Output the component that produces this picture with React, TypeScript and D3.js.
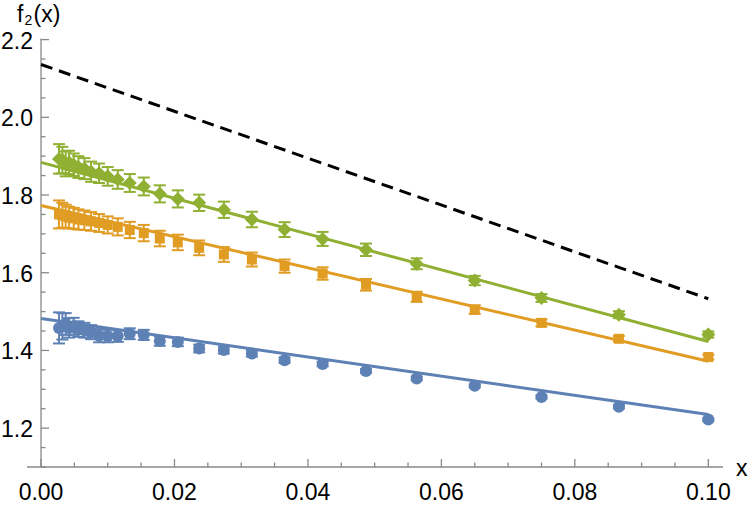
import * as d3 from 'd3'

// sample positions shared by the three data sets
const xs = [
  0.1, 0.0866, 0.075, 0.065, 0.0563, 0.0487, 0.0422, 0.0365, 0.0316, 0.0274,
  0.0237, 0.0205, 0.0178, 0.0154, 0.0133, 0.0115, 0.0100, 0.0087, 0.0075,
  0.0065, 0.0056, 0.0049, 0.0042, 0.0037, 0.0032, 0.0027,
]

const blueY = [
  1.222, 1.255, 1.280, 1.309, 1.328, 1.347, 1.365, 1.375, 1.392, 1.401,
  1.405, 1.422, 1.424, 1.440, 1.443, 1.437, 1.437, 1.438, 1.447,
  1.452, 1.455, 1.462, 1.458, 1.468, 1.462, 1.458,
]
const blueErr = [
  0.004, 0.004, 0.004, 0.004, 0.005, 0.005, 0.006, 0.007, 0.008, 0.009,
  0.010, 0.011, 0.012, 0.013, 0.014, 0.015, 0.016, 0.017, 0.018,
  0.019, 0.020, 0.022, 0.025, 0.028, 0.034, 0.040,
]

const orangeY = [
  1.383, 1.430, 1.471, 1.505, 1.538, 1.569, 1.598, 1.617, 1.634, 1.647,
  1.664, 1.678, 1.688, 1.702, 1.710, 1.718, 1.723, 1.728, 1.732,
  1.735, 1.737, 1.740, 1.742, 1.745, 1.748, 1.750,
]
const orangeErr = [
  0.006, 0.007, 0.009, 0.011, 0.013, 0.015, 0.016, 0.017, 0.018, 0.019,
  0.019, 0.020, 0.020, 0.021, 0.021, 0.022, 0.022, 0.023, 0.024,
  0.025, 0.026, 0.027, 0.028, 0.030, 0.032, 0.036,
]

const greenY = [
  1.441, 1.492, 1.535, 1.580, 1.623, 1.659, 1.687, 1.711, 1.737, 1.762,
  1.780, 1.790, 1.803, 1.822, 1.831, 1.840, 1.848, 1.856, 1.860,
  1.868, 1.872, 1.878, 1.884, 1.880, 1.890, 1.893,
]
const greenErr = [
  0.008, 0.009, 0.010, 0.012, 0.014, 0.016, 0.018, 0.019, 0.020, 0.021,
  0.021, 0.022, 0.022, 0.023, 0.023, 0.024, 0.024, 0.025, 0.026,
  0.027, 0.028, 0.029, 0.030, 0.032, 0.034, 0.038,
]

// straight fits, given by their values at x = 0 and x = 0.1
const fitX = [0, 0.1]
const blueFit = [1.482, 1.235]
const orangeFit = [1.773, 1.372]
const greenFit = [1.884, 1.423]
const limitFit = [2.136, 1.533]

const xTicks = [0, 0.02, 0.04, 0.06, 0.08, 0.1]
const yTicks = [1.2, 1.4, 1.6, 1.8, 2.0, 2.2]

const BLUE = '#5E81B5'
const ORANGE = '#E19C24'
const GREEN = '#8FB032'
const AXIS = '#888'

const WIDTH = 750
const HEIGHT = 505
const FONT = "'Liberation Sans', Arial, sans-serif"

const x = d3.scaleLinear().domain([-0.0021, 0.1022]).range([27, 723])
const y = d3.scaleLinear().domain([1.1, 2.2]).range([467, 39.6])

const fitLine = d3.line<number>()
  .x((_, i) => x(fitX[i]))
  .y(d => y(d))

function ErrorBars({ ys, errs, color }: { ys: number[]; errs: number[]; color: string }) {
  return (
    <g stroke={color} strokeWidth={2}>
      {xs.map((xv, i) => {
        const cx = x(xv)
        const top = y(ys[i] + errs[i])
        const bot = y(ys[i] - errs[i])
        return (
          <g key={i}>
            <line x1={cx} x2={cx} y1={top} y2={bot} />
            <line x1={cx - 6} x2={cx + 6} y1={top} y2={top} />
            <line x1={cx - 6} x2={cx + 6} y1={bot} y2={bot} />
          </g>
        )
      })}
    </g>
  )
}

export default function App() {
  const xMinor = d3.range(0, 0.1001, 0.005)
  const yMinor = d3.range(1.1, 2.2001, 0.05)
  const x0 = x(0)
  const y0 = y(1.1)

  return (
    <>
      <style>{`body { margin: 0; }`}</style>
      <svg width={WIDTH} height={HEIGHT} style={{ display: 'block', fontFamily: FONT }}>
        <rect width={WIDTH} height={HEIGHT} fill="#fff" />

        {/* axes */}
        <g stroke={AXIS} strokeWidth={1.3}>
          <line x1={x.range()[0]} x2={x.range()[1]} y1={y0} y2={y0} />
          <line x1={x0} x2={x0} y1={y(2.2) - 1} y2={y0} />
          {xMinor.map((t, i) => {
            const major = i % 4 === 0
            return <line key={'xm' + i} x1={x(t)} x2={x(t)} y1={y0} y2={y0 - (major ? 8 : 4.5)} />
          })}
          {yMinor.map((t, i) => {
            const major = i % 4 === 2
            return <line key={'ym' + i} x1={x0} x2={x0 + (major ? 8 : 4.5)} y1={y(t)} y2={y(t)} />
          })}
        </g>

        <g fontSize={23} fill="#000">
          {xTicks.map(t => (
            <text key={'xt' + t} x={x(t)} y={500} textAnchor="middle">{t.toFixed(2)}</text>
          ))}
          {yTicks.map(t => (
            <text key={'yt' + t} x={33} y={y(t) + 9} textAnchor="end">{t.toFixed(1)}</text>
          ))}
          {/* axis labels: f_2(x) and x */}
          <text x={17} y={22}>f</text>
          <text x={24.5} y={25} fontSize={14}>2</text>
          <text x={33.5} y={22}>(x)</text>
          <text x={736} y={476}>x</text>
        </g>

        {/* fitted lines */}
        <path d={fitLine(limitFit) ?? ''} fill="none" stroke="#000" strokeWidth={3} strokeDasharray="12,7" />
        <path d={fitLine(blueFit) ?? ''} fill="none" stroke={BLUE} strokeWidth={3} />
        <path d={fitLine(orangeFit) ?? ''} fill="none" stroke={ORANGE} strokeWidth={3} />
        <path d={fitLine(greenFit) ?? ''} fill="none" stroke={GREEN} strokeWidth={3} />

        {/* data with error bars */}
        <ErrorBars ys={blueY} errs={blueErr} color={BLUE} />
        <g fill={BLUE}>
          {xs.map((xv, i) => <circle key={i} cx={x(xv)} cy={y(blueY[i])} r={6} />)}
        </g>

        <ErrorBars ys={orangeY} errs={orangeErr} color={ORANGE} />
        <g fill={ORANGE}>
          {xs.map((xv, i) => (
            <rect key={i} x={x(xv) - 5} y={y(orangeY[i]) - 5} width={10} height={10} />
          ))}
        </g>

        <ErrorBars ys={greenY} errs={greenErr} color={GREEN} />
        <g fill={GREEN}>
          {xs.map((xv, i) => {
            const cx = x(xv)
            const cy = y(greenY[i])
            return <path key={i} d={`M${cx},${cy - 7}L${cx + 7},${cy}L${cx},${cy + 7}L${cx - 7},${cy}Z`} />
          })}
        </g>
      </svg>
    </>
  )
}
